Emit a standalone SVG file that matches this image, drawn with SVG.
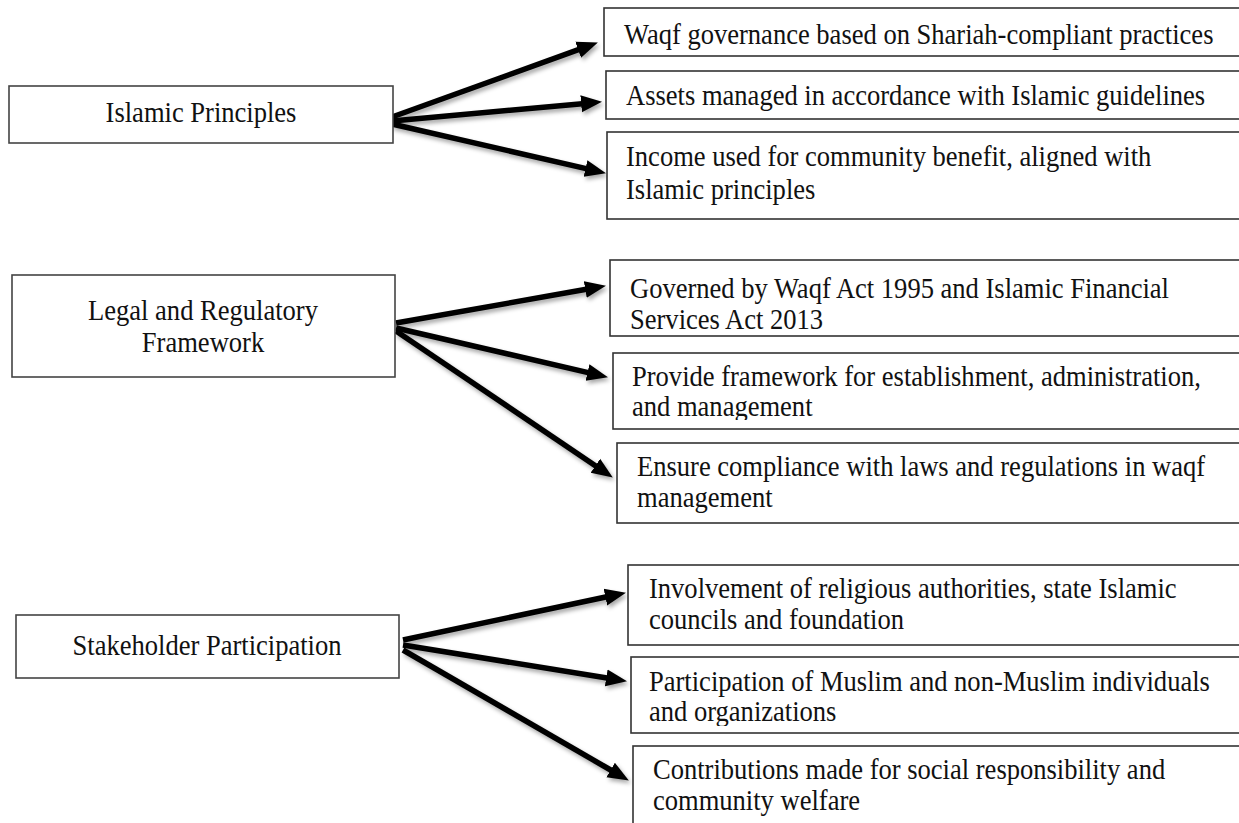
<svg xmlns="http://www.w3.org/2000/svg" width="1239" height="823" viewBox="0 0 1239 823">
<style>
.box{fill:#fff;stroke:#333;stroke-width:1.6}
.lbox{fill:#fff;stroke:#444;stroke-width:1.6}
.t{font-family:"Liberation Serif","Times New Roman",serif;font-size:29.5px;fill:#111}
.c{text-anchor:middle}
.arr{stroke:#000;stroke-width:5.5;fill:none;marker-end:url(#ah)}
</style>
<defs>
<marker id="ah" markerUnits="userSpaceOnUse" markerWidth="24" markerHeight="20" refX="4" refY="10" orient="auto">
<path d="M0,1.5 L21,10 L0,18.5 Z" fill="#000"/>
</marker>
<filter id="sh" x="-10%" y="-10%" width="130%" height="130%">
<feDropShadow dx="2" dy="3" stdDeviation="2" flood-color="#000" flood-opacity="0.35"/>
</filter>
<clipPath id="clipProvide"><rect x="613" y="353" width="640" height="67"/></clipPath>
<clipPath id="clipPart"><rect x="631" y="657" width="620" height="69"/></clipPath>
</defs>
<rect width="1239" height="823" fill="#fff"/>

<g id="connectors" filter="url(#sh)">
<line class="arr" x1="392" y1="117" x2="581.9" y2="48.4"/>
<line class="arr" x1="392" y1="121" x2="585.1" y2="103.4"/>
<line class="arr" x1="392" y1="124" x2="589.4" y2="169.4"/>
<line class="arr" x1="396" y1="323" x2="589.2" y2="288.8"/>
<line class="arr" x1="396" y1="328" x2="591.4" y2="373.4"/>
<line class="arr" x1="396" y1="331" x2="598.7" y2="468"/>
<line class="arr" x1="403" y1="640" x2="609.3" y2="596.3"/>
<line class="arr" x1="403" y1="645" x2="610.2" y2="678.5"/>
<line class="arr" x1="403" y1="650" x2="614.1" y2="772"/>
</g>

<g id="islamic-principles">
<rect class="lbox" x="9" y="86" width="384" height="57"/>
<g transform="translate(201,0) scale(0.9,1)"><text class="t c" x="0" y="122">Islamic Principles</text></g>
</g>
<g id="waqf-governance">
<rect class="box" x="604" y="8" width="645" height="48"/>
<g transform="translate(624,0) scale(0.9,1)"><text class="t" x="0" y="44">Waqf governance based on Shariah-compliant practices</text></g>
</g>
<g id="assets-managed">
<rect class="box" x="606" y="71" width="645" height="48"/>
<g transform="translate(626,0) scale(0.9,1)"><text class="t" x="0" y="105">Assets managed in accordance with Islamic guidelines</text></g>
</g>
<g id="income-used">
<rect class="box" x="607" y="132" width="645" height="87"/>
<g transform="translate(626,0) scale(0.9,1)">
<text class="t" x="0" y="166">Income used for community benefit, aligned with</text>
<text class="t" x="0" y="199">Islamic principles</text>
</g>
</g>

<g id="legal-framework">
<rect class="lbox" x="12" y="275" width="383" height="102"/>
<g transform="translate(203,0) scale(0.9,1)">
<text class="t c" x="0" y="320">Legal and Regulatory</text>
<text class="t c" x="0" y="352">Framework</text>
</g>
</g>
<g id="governed-by">
<rect class="box" x="610" y="260" width="640" height="76"/>
<g transform="translate(630,0) scale(0.9,1)">
<text class="t" x="0" y="298">Governed by Waqf Act 1995 and Islamic Financial</text>
<text class="t" x="0" y="329">Services Act 2013</text>
</g>
</g>
<g id="provide-framework">
<rect class="box" x="613" y="353" width="640" height="76"/>
<g clip-path="url(#clipProvide)">
<g transform="translate(632,0) scale(0.9,1)">
<text class="t" x="0" y="386">Provide framework for establishment, administration,</text>
<text class="t" x="0" y="416">and management</text>
</g>
</g>
</g>
<g id="ensure-compliance">
<rect class="box" x="617" y="443" width="640" height="80"/>
<g transform="translate(637,0) scale(0.9,1)">
<text class="t" x="0" y="476">Ensure compliance with laws and regulations in waqf</text>
<text class="t" x="0" y="507">management</text>
</g>
</g>

<g id="stakeholder-participation">
<rect class="lbox" x="16" y="615" width="383" height="63"/>
<g transform="translate(207,0) scale(0.9,1)"><text class="t c" x="0" y="655">Stakeholder Participation</text></g>
</g>
<g id="involvement">
<rect class="box" x="628" y="565" width="630" height="80"/>
<g transform="translate(649,0) scale(0.9,1)">
<text class="t" x="0" y="598">Involvement of religious authorities, state Islamic</text>
<text class="t" x="0" y="629">councils and foundation</text>
</g>
</g>
<g id="participation">
<rect class="box" x="631" y="657" width="630" height="76"/>
<g clip-path="url(#clipPart)">
<g transform="translate(649,0) scale(0.9,1)">
<text class="t" x="0" y="691">Participation of Muslim and non-Muslim individuals</text>
<text class="t" x="0" y="721">and organizations</text>
</g>
</g>
</g>
<g id="contributions">
<rect class="box" x="633" y="746" width="630" height="90"/>
<g transform="translate(653,0) scale(0.9,1)">
<text class="t" x="0" y="779">Contributions made for social responsibility and</text>
<text class="t" x="0" y="810">community welfare</text>
</g>
</g>
</svg>
